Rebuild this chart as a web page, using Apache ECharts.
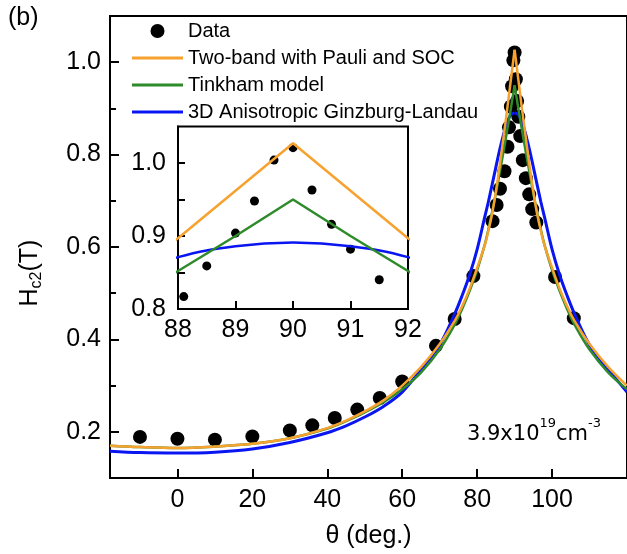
<!DOCTYPE html>
<html><head><meta charset="utf-8">
<script src="https://cdn.jsdelivr.net/npm/echarts@6/dist/echarts.min.js"></script>
<style>html,body{margin:0;padding:0;background:#fff}#c{width:627px;height:554px}</style>
</head><body><div id="c"></div>
<script>
// ---- data ----
const seriesNames = ['Data', 'Two-band with Pauli and SOC', 'Tinkham model', '3D Anisotropic Ginzburg-Landau'];

const dataTheta = [-10, 0, 10, 20, 30, 36, 42, 48, 54, 60, 69, 74, 79, 84.1, 85.2, 86.1, 87.3, 88.1, 88.5, 89, 89.33, 89.67, 90, 90.33, 90.67, 91, 91.5, 92.2, 93, 93.9, 94.7, 95.8, 100.8, 105.8];
const dataHc2 = [0.189, 0.185, 0.183, 0.190, 0.203, 0.214, 0.230, 0.248, 0.273, 0.309, 0.386, 0.444, 0.537, 0.656, 0.691, 0.726, 0.764, 0.817, 0.859, 0.904, 0.948, 1.004, 1.021, 0.963, 0.916, 0.882, 0.840, 0.788, 0.749, 0.714, 0.682, 0.653, 0.535, 0.446];

const leftTheta = [-18, -10, 0, 10, 20, 30, 40, 45, 50, 55, 60, 65, 70, 74, 76, 78, 80, 82, 83, 84, 85, 86, 87, 88, 89, 90];
const twoBandLeft = [0.170, 0.167, 0.165, 0.168, 0.174, 0.186, 0.208, 0.224, 0.244, 0.268, 0.300, 0.340, 0.390, 0.440, 0.472, 0.510, 0.555, 0.603, 0.635, 0.672, 0.720, 0.775, 0.835, 0.897, 0.962, 1.027];
const tinkhamLeft = [0.170, 0.167, 0.165, 0.168, 0.174, 0.186, 0.207, 0.223, 0.242, 0.264, 0.292, 0.328, 0.378, 0.432, 0.466, 0.505, 0.550, 0.604, 0.638, 0.676, 0.716, 0.760, 0.805, 0.852, 0.900, 0.950];
const glLeft = [0.158, 0.155, 0.154, 0.156, 0.163, 0.177, 0.198, 0.213, 0.232, 0.255, 0.286, 0.335, 0.388, 0.455, 0.495, 0.540, 0.595, 0.664, 0.698, 0.735, 0.773, 0.810, 0.842, 0.871, 0.886, 0.891];

const rightTheta = [90, 91, 92, 93, 94, 95, 96, 97, 98, 100, 102, 104, 106, 110, 115, 120];
const twoBandRight = [1.027, 0.962, 0.897, 0.835, 0.775, 0.720, 0.672, 0.635, 0.603, 0.555, 0.510, 0.472, 0.440, 0.390, 0.340, 0.300];
const tinkhamRight = [0.950, 0.900, 0.852, 0.805, 0.760, 0.716, 0.676, 0.638, 0.604, 0.550, 0.505, 0.466, 0.432, 0.378, 0.328, 0.292];
const glRight = [0.891, 0.886, 0.871, 0.842, 0.810, 0.773, 0.735, 0.698, 0.664, 0.595, 0.540, 0.495, 0.455, 0.388, 0.335, 0.286];

const xTickValues = [0, 20, 40, 60, 80, 100, 120];
const xLabelValues = [0, 20, 40, 60, 80, 100];
const yMajorValues = [0.2, 0.4, 0.6, 0.8, 1.0];
const yMinorValues = [0.3, 0.5, 0.7, 0.9];
const insetYTickValues = [0.8, 0.85, 0.9, 0.95, 1.0];
const insetYLabelValues = [0.8, 0.9, 1.0];

// ---- build ----
const FONT = 'Liberation Sans';
const zip = (a, b) => a.map((v, i) => [v, b[i]]);
const inRange = (pts, lo, hi) => pts.filter(p => p[0] >= lo && p[0] <= hi);
const C_OR = '#F7A12F', C_GR = '#2E8B2A', C_BL = '#0A16F2';

const dataPts = zip(dataTheta, dataHc2);
const curves = [
  {name: seriesNames[3], color: C_BL, w: 3, L: zip(leftTheta, glLeft), R: zip(rightTheta, glRight), smoothInset: true},
  {name: seriesNames[2], color: C_GR, w: 2.5, L: zip(leftTheta, tinkhamLeft), R: zip(rightTheta, tinkhamRight), smoothInset: false},
  {name: seriesNames[1], color: C_OR, w: 2.5, L: zip(leftTheta, twoBandLeft), R: zip(rightTheta, twoBandRight), smoothInset: false}
];

const dotStyle = {color: '#000', opacity: 1};
const series = [
  {name: seriesNames[0], type: 'scatter', xAxisIndex: 0, yAxisIndex: 0, data: dataPts, symbol: 'circle', symbolSize: 14, itemStyle: dotStyle},
  {name: seriesNames[0], type: 'scatter', xAxisIndex: 1, yAxisIndex: 2, data: inRange(dataPts, 87.9, 92.1), symbol: 'circle', symbolSize: 9, itemStyle: dotStyle}
];
curves.forEach(c => {
  ['L', 'R'].forEach(k => {
    series.push({name: c.name, type: 'line', xAxisIndex: 0, yAxisIndex: 0, data: c[k], smooth: 0.35, symbol: 'none', showSymbol: false,
      lineStyle: {color: c.color, width: c.w}, itemStyle: {color: c.color}});
  });
  const inset = inRange(c.L, 86.9, 90).concat(inRange(c.R, 90.1, 93.1));
  series.push({name: c.name, type: 'line', xAxisIndex: 1, yAxisIndex: 2, data: inset, smooth: c.smoothInset ? 0.4 : false, symbol: 'none', showSymbol: false, clip: true,
    lineStyle: {color: c.color, width: 2.5}, itemStyle: {color: c.color}});
});

const axLine = {show: true, onZero: false, lineStyle: {color: '#000', width: 2}};
const lbl = {color: '#000', fontSize: 25, fontFamily: FONT};
const lineIcon = 'path://M0 0H51V3H0Z';

const option = {
  animation: false,
  backgroundColor: '#fff',
  grid: [
    {left: 110, top: 16, width: 541.7, height: 463, show: true, borderColor: '#000', borderWidth: 2, backgroundColor: 'transparent'},
    {left: 178, top: 126.5, width: 230, height: 182.5, show: true, borderColor: '#000', borderWidth: 2, backgroundColor: '#fff'}
  ],
  xAxis: [
    {gridIndex: 0, type: 'value', min: -18, max: 120, axisLine: axLine,
      axisTick: {inside: true, length: 9, lineStyle: {color: '#000', width: 2}, customValues: xTickValues},
      axisLabel: Object.assign({customValues: xLabelValues, margin: 10}, lbl),
      splitLine: {show: false},
      name: 'θ (deg.)', nameLocation: 'middle', nameGap: 46, nameTextStyle: {color: '#000', fontSize: 25, fontFamily: FONT}},
    {gridIndex: 1, type: 'value', min: 88, max: 92, interval: 1, axisLine: axLine,
      axisTick: {inside: true, length: 8, lineStyle: {color: '#000', width: 2}},
      axisLabel: Object.assign({margin: 9}, lbl),
      splitLine: {show: false}}
  ],
  yAxis: [
    {gridIndex: 0, type: 'value', position: 'left', min: 0.1, max: 1.1, axisLine: axLine,
      axisTick: {inside: true, length: 9, lineStyle: {color: '#000', width: 2}, customValues: yMajorValues},
      axisLabel: Object.assign({customValues: yMajorValues, margin: 9, formatter: v => Number(v).toFixed(1)}, lbl),
      splitLine: {show: false}},
    {gridIndex: 0, type: 'value', position: 'left', offset: 0, min: 0.1, max: 1.1, axisLine: {show: false, onZero: false},
      axisTick: {inside: true, length: 6, lineStyle: {color: '#000', width: 2}, customValues: yMinorValues},
      axisLabel: {show: false}, splitLine: {show: false}},
    {gridIndex: 1, type: 'value', position: 'left', min: 0.8, max: 1.05, axisLine: axLine,
      axisTick: {inside: true, length: 7, lineStyle: {color: '#000', width: 2}, customValues: insetYTickValues},
      axisLabel: Object.assign({customValues: insetYLabelValues, margin: 12, formatter: v => Number(v).toFixed(1)}, lbl),
      splitLine: {show: false}}
  ],
  legend: {
    orient: 'vertical', left: 132, top: 21, padding: 0, itemWidth: 51, itemHeight: 14, itemGap: 7,
    symbolKeepAspect: true,
    textStyle: {color: '#000', fontSize: 20, lineHeight: 20, fontFamily: FONT},
    data: [
      {name: seriesNames[0], icon: 'circle', itemStyle: {color: '#000', opacity: 1}},
      {name: seriesNames[1], icon: lineIcon, itemStyle: {color: C_OR}},
      {name: seriesNames[2], icon: lineIcon, itemStyle: {color: C_GR}},
      {name: seriesNames[3], icon: lineIcon, itemStyle: {color: C_BL}}
    ],
    selectedMode: false
  },
  graphic: [
    {type: 'text', x: 8, y: 6, style: {text: '(b)', fontSize: 25, fontFamily: FONT, fill: '#000'}},
    {type: 'text', x: 30, y: 273, rotation: Math.PI / 2,
      style: {text: '{a|H}{s|c2}{a|(T)}', align: 'center', verticalAlign: 'middle', fill: '#000',
        rich: {a: {fontSize: 25, fontFamily: FONT, lineHeight: 30, verticalAlign: 'middle'},
               s: {fontSize: 16, fontFamily: FONT, lineHeight: 30, verticalAlign: 'bottom'}}}},
    {type: 'text', x: 534, y: 431,
      style: {text: '{a|3.9x10}{s|19}{a|cm}{s|-3}', align: 'center', verticalAlign: 'middle', fill: '#000',
        rich: {a: {fontSize: 21, fontFamily: 'DejaVu Sans', lineHeight: 28, verticalAlign: 'bottom'},
               s: {fontSize: 13, fontFamily: 'DejaVu Sans', lineHeight: 28, verticalAlign: 'top'}}}}
  ],
  series: series
};
const chart = echarts.init(document.getElementById('c'), null, {renderer: 'canvas'});
chart.setOption(option);
</script>
</body></html>
